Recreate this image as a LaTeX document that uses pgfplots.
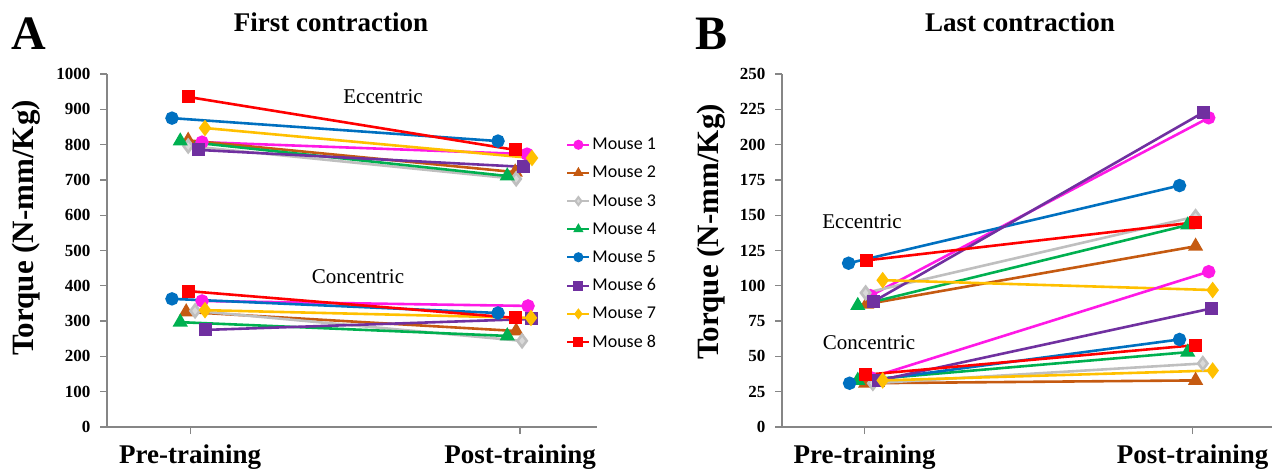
\documentclass[border=0pt]{standalone}
\usepackage{fontspec}
\usepackage{pgfplots}
\pgfplotsset{compat=1.18}
\setmainfont{Liberation Serif}
\newfontfamily\carlito{Carlito}
\definecolor{cmone}{HTML}{FF19E6}
\definecolor{cmtwo}{HTML}{C55A11}
\definecolor{cmthree}{HTML}{BFBFBF}
\definecolor{cmthreefill}{HTML}{D9D9D9}
\definecolor{cmfour}{HTML}{00B050}
\definecolor{cmfive}{HTML}{0070C0}
\definecolor{cmsix}{HTML}{7030A0}
\definecolor{cmseven}{HTML}{FFC000}
\definecolor{cmeight}{HTML}{FF0000}
\definecolor{edge}{HTML}{505050}
\definecolor{axgray}{HTML}{868686}

\pgfplotsset{
  mk/.style={line width=2.6pt, mark options={draw=edge, line width=0.7pt, solid}},
  m1/.style={mk, color=cmone, mark=*, mark size=5.4pt, mark options={fill=cmone}},
  m2/.style={mk, color=cmtwo, mark=triangle*, mark size=6.2pt, mark options={fill=cmtwo}},
  m3/.style={mk, color=cmthree, mark=diamond*, mark size=6.2pt, mark options={fill=cmthreefill}},
  m4/.style={mk, color=cmfour, mark=triangle*, mark size=6.2pt, mark options={fill=cmfour}},
  m5/.style={mk, color=cmfive, mark=*, mark size=5.4pt, mark options={fill=cmfive}},
  m6/.style={mk, color=cmsix, mark=square*, mark size=5.2pt, mark options={fill=cmsix}},
  m7/.style={mk, color=cmseven, mark=diamond*, mark size=6.2pt, mark options={fill=cmseven}},
  m8/.style={mk, color=cmeight, mark=square*, mark size=5.2pt, mark options={fill=cmeight}},
  panel/.style={
    scale only axis, width=490pt, height=353pt,
    axis x line*=bottom, axis y line*=left,
    axis line style={draw=axgray, line width=1.3pt, -},
    tick style={draw=axgray, line width=1.3pt},
    tick align=outside, major tick length=7pt,
    xtick={1,2}, xticklabels={Pre-training,Post-training},
    xticklabel style={font=\bfseries\fontsize{27}{27}\selectfont, yshift=-7pt},
    yticklabel style={font=\bfseries\fontsize{17}{17}\selectfont, xshift=-6pt},
    /pgf/number format/assume math mode=true,
    /pgf/number format/1000 sep={},
    ymin=0, clip=false,
  },
}

\begin{document}
\begin{tikzpicture}[x=1pt,y=1pt]
\useasboundingbox (0,0) rectangle (1284,-474);

% Panel A
\begin{axis}[panel, at={(107pt,-427pt)}, anchor=south west,
  xmin=0.748, xmax=2.233, ymax=1000, ytick={0,100,...,1000},
  legend cell align=left,
  legend style={at={(0.931,0.830)}, anchor=north west, draw=none, fill=none,
    font=\carlito\fontsize{18}{18}\selectfont, row sep=11pt,
    /tikz/every even column/.append style={column sep=1pt}},
  legend image code/.code={\draw[#1, line width=2pt, mark size=4pt, mark repeat=2, mark phase=2]
    plot coordinates {(0pt,0pt) (11pt,0pt) (22pt,0pt)};},
]
\addplot[m1] coordinates {(1.036,807) (2.021,773)}; \addlegendentry{Mouse 1}
\addplot[m2] coordinates {(0.994,812) (1.985,722)}; \addlegendentry{Mouse 2}
\addplot[m3] coordinates {(0.994,796) (1.988,703)}; \addlegendentry{Mouse 3}
\addplot[m4] coordinates {(0.970,810) (1.961,711)}; \addlegendentry{Mouse 4}
\addplot[m5] coordinates {(0.945,875) (1.933,810)}; \addlegendentry{Mouse 5}
\addplot[m6] coordinates {(1.024,785) (2.009,737)}; \addlegendentry{Mouse 6}
\addplot[m7] coordinates {(1.045,847) (2.036,762)}; \addlegendentry{Mouse 7}
\addplot[m8] coordinates {(0.994,935) (1.985,785)}; \addlegendentry{Mouse 8}
\addplot[m1, forget plot] coordinates {(1.036,357) (2.024,343)};
\addplot[m2, forget plot] coordinates {(0.988,326) (1.988,272)};
\addplot[m3, forget plot] coordinates {(1.015,329) (2.006,244)};
\addplot[m4, forget plot] coordinates {(0.970,297) (1.961,258)};
\addplot[m5, forget plot] coordinates {(0.945,363) (1.933,323)};
\addplot[m6, forget plot] coordinates {(1.045,275) (2.033,306)};
\addplot[m7, forget plot] coordinates {(1.045,331) (2.033,309)};
\addplot[m8, forget plot] coordinates {(0.994,385) (1.985,309)};
\end{axis}

% Panel B
\begin{axis}[panel, at={(782pt,-427pt)}, anchor=south west,
  xmin=0.748, xmax=2.242, ymax=250, ytick={0,25,...,250}]
\addplot[m1] coordinates {(1.018,93) (2.049,219)};
\addplot[m2] coordinates {(1.006,87) (2.009,128)};
\addplot[m3] coordinates {(1.003,95) (2.009,149)};
\addplot[m4] coordinates {(0.979,86) (1.985,143)};
\addplot[m5] coordinates {(0.951,116) (1.960,171)};
\addplot[m6] coordinates {(1.028,89) (2.034,223)};
\addplot[m7] coordinates {(1.055,104) (2.061,97)};
\addplot[m8] coordinates {(1.006,118) (2.009,145)};
\addplot[m1] coordinates {(1.018,35) (2.049,110)};
\addplot[m2] coordinates {(1.003,31) (2.009,33)};
\addplot[m3] coordinates {(1.025,31) (2.031,45)};
\addplot[m4] coordinates {(0.979,33) (1.985,53)};
\addplot[m5] coordinates {(0.954,31) (1.960,62)};
\addplot[m6] coordinates {(1.043,33) (2.058,84)};
\addplot[m7] coordinates {(1.055,33) (2.061,40)};
\addplot[m8] coordinates {(1.003,37) (2.009,58)};
\end{axis}

% titles, panel letters, axis labels, annotations
\node[font=\bfseries\fontsize{48}{48}\selectfont] at (29,-34) {A};
\node[font=\bfseries\fontsize{48}{48}\selectfont] at (711,-34) {B};
\node[font=\bfseries\fontsize{27}{27}\selectfont] at (331,-22) {First contraction};
\node[font=\bfseries\fontsize{27}{27}\selectfont] at (1020,-22) {Last contraction};
\node[font=\bfseries\fontsize{31}{31}\selectfont, rotate=90] at (26,-228) {Torque (N-mm/Kg)};
\node[font=\bfseries\fontsize{31}{31}\selectfont, rotate=90] at (711,-232) {Torque (N-mm/Kg)};
\node[font=\fontsize{21}{21}\selectfont] at (383,-97) {Eccentric};
\node[font=\fontsize{21}{21}\selectfont] at (358,-277) {Concentric};
\node[font=\fontsize{21}{21}\selectfont] at (862,-222) {Eccentric};
\node[font=\fontsize{21}{21}\selectfont] at (869,-343) {Concentric};
\end{tikzpicture}
\end{document}
